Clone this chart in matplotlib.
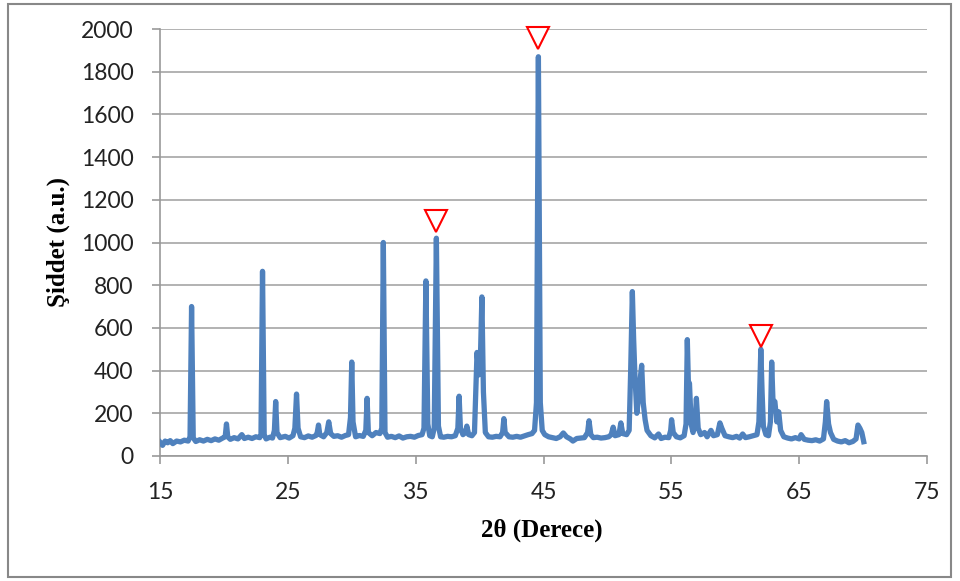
import matplotlib
matplotlib.use("Agg")
from matplotlib import pyplot as plt
from matplotlib.patches import Rectangle

# XRD trace (2theta in degrees, intensity in a.u.)
two_theta = [
    15.0, 15.2, 15.4, 15.6, 15.8, 16.0, 16.3, 16.6, 16.9, 17.2, 17.35, 17.47, 17.6, 17.8,
    18.1, 18.4, 18.7, 19.0, 19.3, 19.6, 19.9, 20.1, 20.2, 20.3, 20.5, 20.8, 21.1, 21.4,
    21.6, 21.9, 22.2, 22.5, 22.8, 22.9, 23.02, 23.15, 23.3, 23.6, 23.8, 23.95, 24.05, 24.15,
    24.4, 24.8, 25.1, 25.4, 25.55, 25.68, 25.8, 26.0, 26.3, 26.6, 26.9, 27.2, 27.3, 27.4,
    27.5, 27.8, 28.05, 28.2, 28.35, 28.6, 28.9, 29.2, 29.5, 29.75, 29.9, 30.0, 30.1, 30.3,
    30.6, 30.9, 31.1, 31.2, 31.3, 31.6, 31.9, 32.2, 32.35, 32.47, 32.6, 32.8, 33.1, 33.4,
    33.7, 34.0, 34.3, 34.6, 34.9, 35.2, 35.5, 35.65, 35.8, 35.95, 36.1, 36.3, 36.45, 36.62,
    36.78, 36.95, 37.2, 37.5, 37.8, 38.1, 38.3, 38.4, 38.5, 38.7, 38.9, 39.0, 39.15, 39.4,
    39.6, 39.72, 39.8, 39.95, 40.05, 40.18, 40.3, 40.45, 40.7, 41.0, 41.3, 41.6, 41.8, 41.9,
    42.0, 42.3, 42.6, 42.9, 43.2, 43.5, 43.8, 44.1, 44.3, 44.45, 44.6, 44.75, 44.9, 45.1,
    45.4, 45.7, 46.0, 46.3, 46.55, 46.8, 47.1, 47.3, 47.6, 47.9, 48.2, 48.45, 48.56, 48.7,
    48.9, 49.2, 49.5, 49.8, 50.1, 50.3, 50.45, 50.6, 50.9, 51.05, 51.2, 51.5, 51.7, 51.82,
    51.95, 52.05, 52.15, 52.3, 52.45, 52.6, 52.68, 52.8, 52.95, 53.1, 53.4, 53.7, 54.0, 54.2,
    54.5, 54.8, 54.95, 55.02, 55.15, 55.4, 55.7, 56.0, 56.15, 56.25, 56.33, 56.42, 56.55, 56.7,
    56.85, 56.96, 57.1, 57.3, 57.6, 57.8, 58.1, 58.3, 58.6, 58.8, 58.95, 59.2, 59.5, 59.8,
    60.1, 60.35, 60.58, 60.8, 61.1, 61.4, 61.7, 61.85, 62.0, 62.1, 62.2, 62.4, 62.6, 62.75,
    62.85, 62.95, 63.1, 63.25, 63.4, 63.55, 63.8, 64.1, 64.4, 64.7, 65.0, 65.15, 65.4, 65.7,
    66.0, 66.3, 66.6, 66.9, 67.05, 67.15, 67.3, 67.45, 67.7, 68.0, 68.3, 68.6, 68.9, 69.2,
    69.45, 69.6, 69.75, 69.9, 70.05,
]
intensity = [
    65, 50, 70, 62, 72, 58, 70, 66, 74, 70, 90, 700, 85, 68,
    76, 70, 78, 72, 80, 74, 84, 90, 150, 90, 78, 86, 80, 100,
    82, 88, 82, 90, 86, 100, 865, 100, 80, 88, 84, 120, 255, 110,
    86, 92, 84, 95, 130, 290, 130, 90, 86, 94, 88, 96, 110, 145,
    100, 90, 110, 160, 105, 92, 95, 88, 96, 100, 180, 440, 160, 90,
    96, 92, 120, 270, 110, 95, 110, 105, 130, 1000, 110, 88, 92, 86,
    94, 84, 90, 92, 88, 96, 100, 130, 820, 150, 95, 90, 130, 1020,
    140, 90, 88, 92, 90, 95, 130, 280, 130, 100, 110, 140, 100, 95,
    110, 330, 485, 380, 420, 745, 300, 110, 90, 88, 92, 90, 110, 175,
    110, 90, 88, 92, 88, 94, 100, 105, 120, 250, 1870, 250, 120, 100,
    90, 86, 82, 90, 108, 90, 80, 70, 82, 84, 86, 110, 165, 100,
    86, 88, 84, 86, 90, 100, 135, 95, 100, 155, 105, 100, 120, 400,
    770, 550, 380, 200, 280, 380, 425, 250, 170, 120, 95, 85, 103, 82,
    88, 86, 120, 170, 110, 90, 85, 95, 150, 545, 350, 340, 150, 110,
    150, 270, 130, 100, 110, 90, 120, 95, 100, 155, 130, 95, 90, 86,
    92, 84, 103, 86, 90, 95, 100, 160, 500, 300, 140, 100, 95, 160,
    440, 260, 255, 160, 207, 120, 90, 84, 80, 86, 80, 100, 78, 74,
    72, 76, 70, 80, 160, 255, 150, 110, 78, 70, 66, 72, 62, 68,
    80, 145, 130, 110, 67,
]

# red open triangles marking the main phase peaks
marker_x = [36.6, 44.6, 62.0]
marker_y = [1100, 1960, 562]

x_ticks = [15, 25, 35, 45, 55, 65, 75]
y_ticks = [0, 200, 400, 600, 800, 1000, 1200, 1400, 1600, 1800, 2000]

fig = plt.figure(figsize=(9.6, 5.81), dpi=100)
ax = fig.add_axes([160/960, 1-456/581, (927-160)/960, (456-29)/581])

ax.plot(two_theta, intensity, color='#4F81BD', lw=3.8, solid_joinstyle='round', zorder=3)
ax.plot(marker_x, marker_y, linestyle='none', marker='v', ms=15.5,
        mfc='white', mec='#FF0000', mew=1.5, zorder=4, clip_on=False)

ax.set_xlim(15, 75)
ax.set_ylim(0, 2000)
ax.set_xticks(x_ticks)
ax.set_yticks(y_ticks)
ax.yaxis.grid(True, color='#A6A6A6', lw=1.2)
ax.set_axisbelow(True)

for s in ['top', 'right']:
    ax.spines[s].set_visible(False)
for s in ['left', 'bottom']:
    ax.spines[s].set_color('#999999')
    ax.spines[s].set_linewidth(1.2)

ax.tick_params(axis='both', direction='out', length=6, width=1.2, color='#999999',
               labelsize=16.5, labelcolor='#222222', pad=13)
for lab in ax.get_xticklabels() + ax.get_yticklabels():
    lab.set_family('Lato')

fig.text(542/960, 1-530/581, '2θ (Derece)', ha='center', va='center',
         fontsize=18, fontweight='bold', family='Liberation Serif')
fig.text(58/960, 1-242/581, 'Şiddet (a.u.)', ha='center', va='center', rotation=90,
         fontsize=18, fontweight='bold', family='Liberation Serif')

fig.patches.append(Rectangle((8/960, 4/581), 943/960, 573/581, transform=fig.transFigure,
                             fill=False, edgecolor='#888888', lw=1.5))

fig.savefig('out.png', dpi=100)
